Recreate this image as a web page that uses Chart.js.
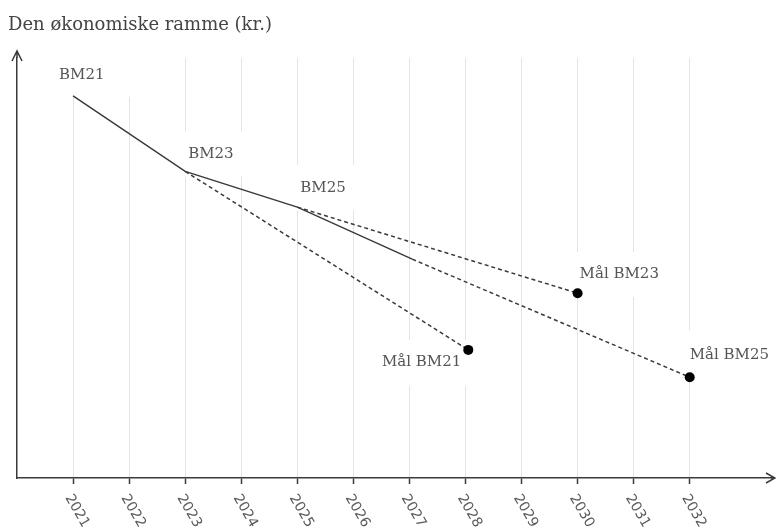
<!DOCTYPE html>
<html>
<head>
<meta charset="utf-8">
<script src="https://cdn.jsdelivr.net/npm/chart.js@4.4.1/dist/chart.umd.min.js"></script>
<style>
  html, body { margin: 0; padding: 0; background: #fff; }
  #wrap { width: 776px; height: 530px; position: relative; }
</style>
</head>
<body>
<div id="wrap"><canvas id="rammeChart"></canvas></div>
<script>
// years on the x axis
const years = [2021, 2022, 2023, 2024, 2025, 2026, 2027, 2028, 2029, 2030, 2031, 2032];

// realised path of the budget frame (no y scale shown, read as 0-100)
const actualX = [2021, 2023, 2025, 2027.05];
const actualY = [91, 73, 64.5, 52.1];

// target lines (start point -> target)
const maalBM21X = [2023, 2028.05];
const maalBM21Y = [73, 30.5];
const maalBM23X = [2025, 2030];
const maalBM23Y = [64.5, 44];
const maalBM25X = [2027.05, 2032];
const maalBM25Y = [52.1, 24];

// text labels and the point they belong to
const labelText = ["BM21", "BM23", "BM25", "Mål BM23", "Mål BM21", "Mål BM25"];
const labelX = [2021, 2023, 2025, 2030, 2028.05, 2032];
const labelY = [91, 73, 64.5, 44, 30.5, 24];

const yTitle = "Den økonomiske ramme (kr.)";

function pts(xs, ys) {
  return xs.map(function (x, i) { return { x: x, y: ys[i] }; });
}

const ink = "#3a3a3a";
const labelFont = "15px 'DejaVu Serif'";

// offsets of label text and white boxes relative to the anchor point (px)
const labelLayout = [
  { dx: -14, dy: -21, align: "left", box: [-27, -39, 105, 40] },
  { dx: 3, dy: -17, align: "left", box: [-15, -40, 90, 45] },
  { dx: 3, dy: -19, align: "left", box: [-12, -42, 85, 45] },
  { dx: 2, dy: -19, align: "left", box: [-12, -41, 95, 45] },
  { dx: -7, dy: 12, align: "right", box: [-94, -10, 100, 46] },
  { dx: 0, dy: -22, align: "left", box: [-10, -47, 96, 46] }
];

const decorPlugin = {
  id: "decor",
  beforeDatasetsDraw: function (chart) {
    const ctx = chart.ctx;
    const xs = chart.scales.x, ys = chart.scales.y;
    ctx.save();
    ctx.font = labelFont;
    ctx.textBaseline = "middle";
    labelText.forEach(function (t, i) {
      const px = xs.getPixelForValue(labelX[i]);
      const py = ys.getPixelForValue(labelY[i]);
      const l = labelLayout[i];
      ctx.fillStyle = "#fff";
      ctx.fillRect(px + l.box[0], py + l.box[1], l.box[2], l.box[3]);
      ctx.fillStyle = "#555";
      ctx.textAlign = l.align;
      ctx.fillText(t, px + l.dx, py + l.dy);
    });
    ctx.restore();
  },
  afterDraw: function (chart) {
    const ctx = chart.ctx;
    const a = chart.chartArea;
    const xs = chart.scales.x;
    ctx.save();
    // title
    ctx.font = "18px 'DejaVu Serif'";
    ctx.fillStyle = "#444";
    ctx.textAlign = "left";
    ctx.textBaseline = "alphabetic";
    ctx.fillText(yTitle, 8, 30);

    // axis extensions and arrows
    ctx.strokeStyle = ink;
    ctx.lineWidth = 1.5;
    ctx.beginPath();
    ctx.moveTo(a.left, a.top);
    ctx.lineTo(a.left, 51);
    ctx.moveTo(a.left - 5, 61);
    ctx.lineTo(a.left, 51);
    ctx.lineTo(a.left + 5, 61);
    ctx.moveTo(a.right, a.bottom);
    ctx.lineTo(775, a.bottom);
    ctx.moveTo(766, a.bottom - 5);
    ctx.lineTo(775, a.bottom);
    ctx.lineTo(766, a.bottom + 5);
    ctx.stroke();

    // rotated year labels
    ctx.font = "14px 'DejaVu Sans'";
    ctx.fillStyle = "#595959";
    ctx.textAlign = "center";
    ctx.textBaseline = "middle";
    years.forEach(function (y) {
      const px = xs.getPixelForValue(y);
      ctx.save();
      ctx.translate(px + 4, a.bottom + 33);
      ctx.rotate(Math.PI / 3);
      ctx.fillText(String(y), 0, 0);
      ctx.restore();
    });
    ctx.restore();
  }
};

document.addEventListener("DOMContentLoaded", function () {
  const ctx = document.getElementById("rammeChart").getContext("2d");
  const dashed = {
    showLine: true,
    borderColor: ink,
    borderWidth: 1.5,
    borderDash: [4, 3],
    pointRadius: [0, 5],
    pointBackgroundColor: "#000",
    pointBorderWidth: 0
  };
  new Chart(ctx, {
    type: "scatter",
    data: {
      datasets: [
        Object.assign({ label: "Mål BM21", data: pts(maalBM21X, maalBM21Y) }, dashed),
        Object.assign({ label: "Mål BM23", data: pts(maalBM23X, maalBM23Y) }, dashed),
        Object.assign({ label: "Mål BM25", data: pts(maalBM25X, maalBM25Y) }, dashed),
        {
          label: "Ramme",
          data: pts(actualX, actualY),
          showLine: true,
          borderColor: ink,
          borderWidth: 1.5,
          pointRadius: 0
        }
      ]
    },
    plugins: [decorPlugin],
    options: {
      responsive: true,
      maintainAspectRatio: false,
      animation: false,
      layout: { padding: { left: 9, top: 58, right: 2, bottom: 46 } },
      plugins: {
        legend: { display: false },
        tooltip: { enabled: false }
      },
      scales: {
        x: {
          type: "linear",
          min: 2020,
          max: 2033.45,
          afterBuildTicks: function (scale) {
            scale.ticks = years.map(function (v) { return { value: v }; });
          },
          ticks: { display: false },
          grid: {
            color: "#e4e4e4",
            lineWidth: 1,
            drawTicks: true,
            tickLength: 6,
            tickColor: ink,
            tickWidth: 1.5
          },
          border: { display: true, color: ink, width: 1.5 }
        },
        y: {
          min: 0,
          max: 100,
          ticks: { display: false },
          grid: { display: false },
          border: { display: true, color: ink, width: 1.5 }
        }
      }
    }
  });
});
</script>
</body>
</html>
